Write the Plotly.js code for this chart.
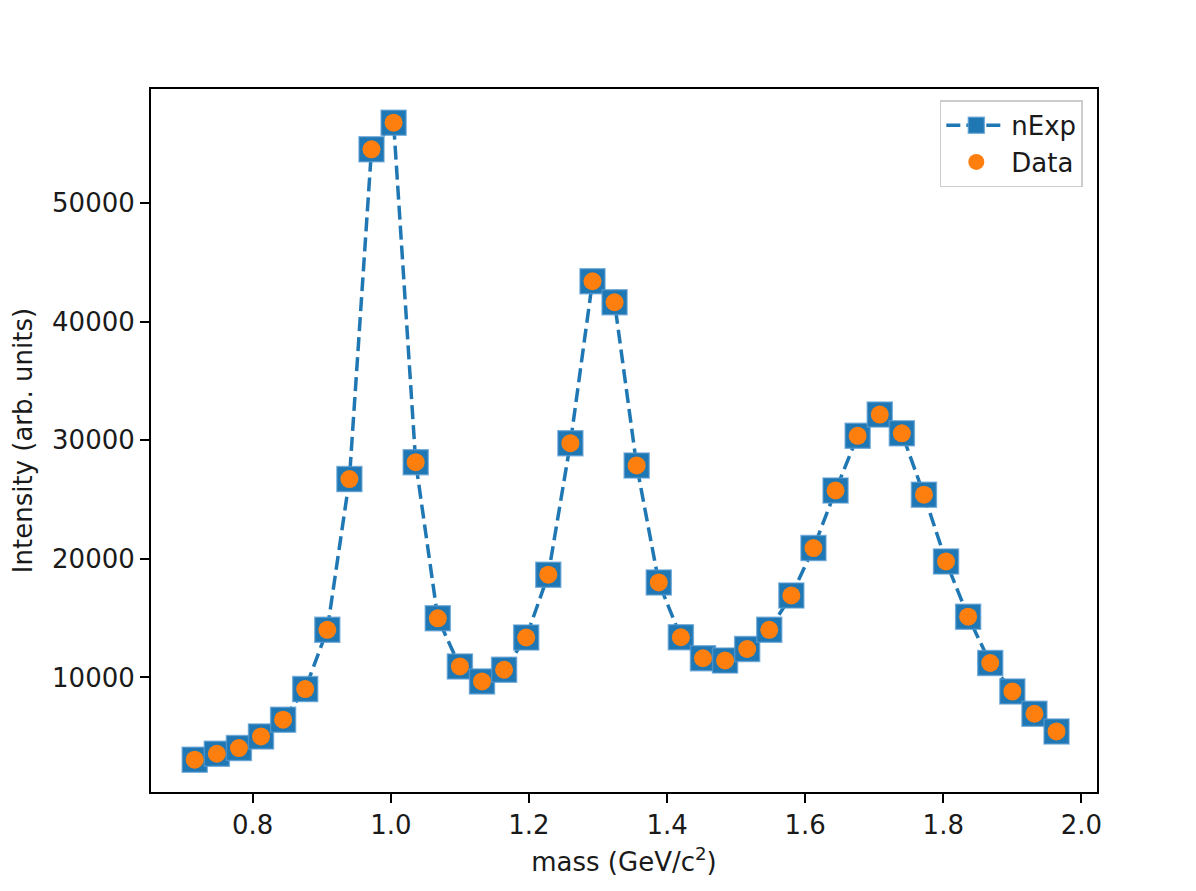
<!DOCTYPE html>
<html>
<head>
<meta charset="utf-8">
<script src="https://cdn.plot.ly/plotly-3.0.1.min.js"></script>
<style>html,body{margin:0;padding:0;background:#fff;}#chart{width:1196px;height:891px;}</style>
</head>
<body>
<div id="chart"></div>
<script>
// Bin centres (GeV/c^2)
const mass = [0.716, 0.748, 0.780, 0.812, 0.844, 0.876, 0.908, 0.940, 0.972, 1.004,
              1.036, 1.068, 1.100, 1.132, 1.164, 1.196, 1.228, 1.260, 1.292, 1.324,
              1.356, 1.388, 1.420, 1.452, 1.484, 1.516, 1.548, 1.580, 1.612, 1.644,
              1.676, 1.708, 1.740, 1.772, 1.804, 1.836, 1.868, 1.900, 1.932, 1.964];
// Expected intensity (nExp)
const nExp = [3070, 3570, 4050, 5030, 6440, 9020, 14020, 26720, 54520, 56770,
              28150, 14990, 10930, 9670, 10650, 13370, 18660, 29750, 43400, 41630,
              27870, 18010, 13390, 11620, 11430, 12400, 14020, 16910, 20910, 25760,
              30370, 32160, 30580, 25410, 19780, 15120, 11220, 8820, 6940, 5450];
// Measured data
const dataVals = [3070, 3570, 4050, 5030, 6440, 9020, 14020, 26720, 54520, 56770,
                  28150, 14990, 10930, 9670, 10650, 13370, 18660, 29750, 43400, 41630,
                  27870, 18010, 13390, 11620, 11430, 12400, 14020, 16910, 20910, 25760,
                  30370, 32160, 30580, 25410, 19780, 15120, 11220, 8820, 6940, 5450];
const xTicks = [0.8, 1.0, 1.2, 1.4, 1.6, 1.8, 2.0];
const xTickText = ['0.8', '1.0', '1.2', '1.4', '1.6', '1.8', '2.0'];
const yTicks = [10000, 20000, 30000, 40000, 50000];
const yTickText = ['10000', '20000', '30000', '40000', '50000'];

const FONT = 'DejaVu Sans, Liberation Sans, sans-serif';
const TXT = '#1a1a1a';

const traces = [
  {
    x: mass, y: nExp, name: 'nExp', type: 'scatter', mode: 'lines+markers',
    line: {color: '#1f77b4', width: 3.5, dash: '14px,6px'},
    marker: {symbol: 'square', size: 25, color: '#1f77b4',
             line: {color: 'rgba(90,155,210,0.7)', width: 1.5}}
  },
  {
    x: mass, y: dataVals, name: 'Data', type: 'scatter', mode: 'markers',
    marker: {symbol: 'circle', size: 18, color: '#ff7f0e'}
  }
];

const layout = {
  width: 1196, height: 891,
  paper_bgcolor: '#ffffff', plot_bgcolor: '#ffffff',
  margin: {l: 151, r: 99, t: 89, b: 99, pad: 0},
  font: {family: FONT, size: 26, color: TXT},
  showlegend: true,
  hovermode: false,
  xaxis: {
    range: [0.6527, 2.0226],
    tickvals: xTicks, ticktext: xTickText,
    ticks: 'outside', ticklen: 9, tickwidth: 2, tickcolor: '#000',
    showline: true, linecolor: '#000', linewidth: 2, mirror: true,
    showgrid: false, zeroline: false,
    tickfont: {family: FONT, size: 26, color: TXT},
    title: {text: 'mass (GeV/c<sup>2</sup>)', font: {family: FONT, size: 26, color: TXT}, standoff: 14}
  },
  yaxis: {
    range: [345, 59606],
    tickvals: yTicks, ticktext: yTickText,
    ticks: 'outside', ticklen: 9, tickwidth: 2, tickcolor: '#000',
    showline: true, linecolor: '#000', linewidth: 2, mirror: true,
    showgrid: false, zeroline: false,
    tickfont: {family: FONT, size: 26, color: TXT},
    title: {text: 'Intensity (arb. units)', font: {family: FONT, size: 26, color: TXT}, standoff: 12}
  },
  legend: {
    x: 0.985, xanchor: 'right', y: 0.984, yanchor: 'top',
    bgcolor: 'rgba(255,255,255,0.8)', bordercolor: '#cccccc', borderwidth: 1.5,
    font: {family: FONT, size: 26, color: TXT},
    itemwidth: 60,
    tracegroupgap: 0
  }
};

Plotly.newPlot('chart', traces, layout, {displayModeBar: false, staticPlot: true});
</script>
</body>
</html>
